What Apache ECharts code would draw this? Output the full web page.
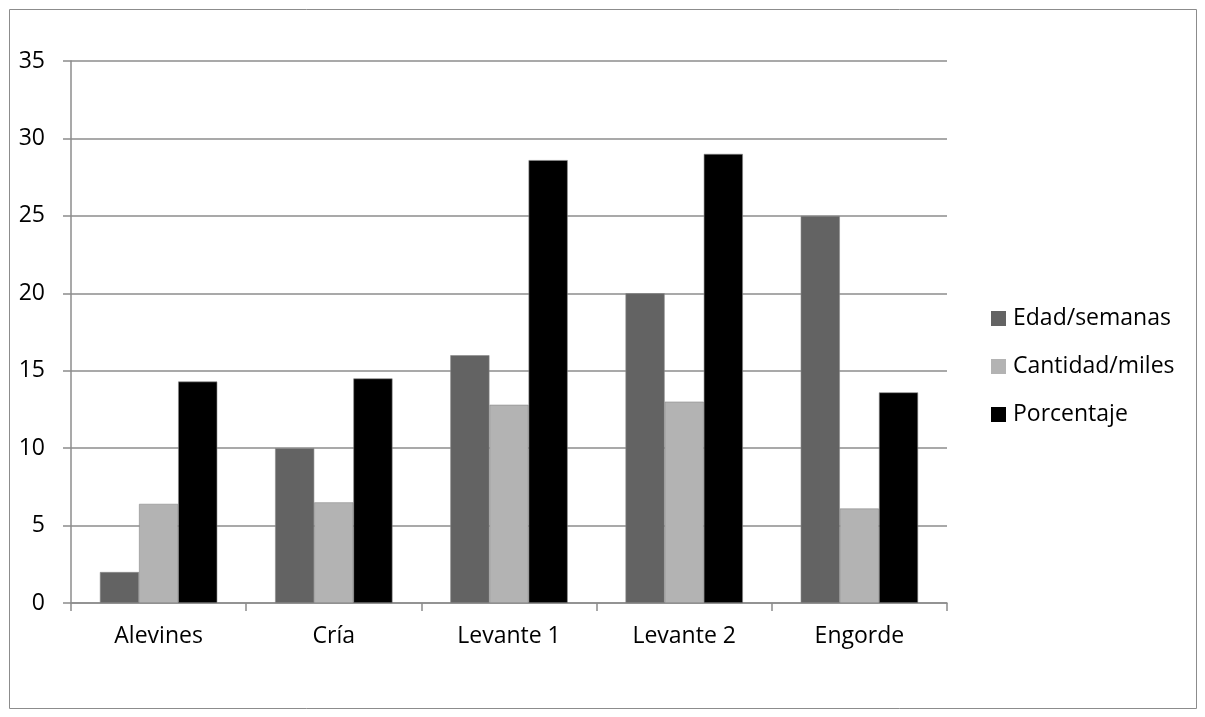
<!DOCTYPE html>
<html>
<head>
<meta charset="utf-8">
<script src="https://cdn.jsdelivr.net/npm/echarts@6/dist/echarts.min.js"></script>
<style>
  html, body { margin: 0; padding: 0; background: #fff; }
  #chart { width: 1205px; height: 717px; }
</style>
</head>
<body>
<div id="chart"></div>
<script>
// Stages of production and their values
const categories = ['Alevines', 'Cría', 'Levante 1', 'Levante 2', 'Engorde'];
const edadSemanas = [2, 10, 16, 20, 25];
const cantidadMiles = [6.4, 6.5, 12.8, 13, 6.1];
const porcentaje = [14.3, 14.5, 28.6, 29, 13.6];
const seriesNames = ['Edad/semanas', 'Cantidad/miles', 'Porcentaje'];
const seriesColors = ['#636363', '#b3b3b3', '#000000'];

const FONT = '"Open Sans", sans-serif';
const FS = 23;
const chart = echarts.init(document.getElementById('chart'), null, { renderer: 'canvas' });

const barStyle = (c) => ({ color: c, borderColor: '#8a8a8a', borderWidth: 0.6 });

chart.setOption({
  animation: false,
  backgroundColor: '#fff',
  textStyle: { fontFamily: FONT },
  graphic: [{
    type: 'rect',
    shape: { x: 9.5, y: 9.5, width: 1187, height: 699 },
    style: { fill: 'none', stroke: '#8c8c8c', lineWidth: 1 },
    z: -1
  }],
  grid: { left: 71, right: 258, top: 61, bottom: 114, containLabel: false },
  legend: {
    orient: 'vertical',
    left: 991,
    top: 307,
    padding: 0,
    itemWidth: 15,
    itemHeight: 15,
    itemGap: 25,
    icon: 'rect',
    itemStyle: { borderWidth: 0 },
    textStyle: { fontSize: FS, lineHeight: 23, color: '#000', fontFamily: FONT, padding: [0, 0, 0, 2] },
    data: seriesNames
  },
  xAxis: {
    type: 'category',
    data: categories,
    axisLine: { lineStyle: { color: '#8c8c8c', width: 1.5 } },
    axisTick: { show: true, length: 8, lineStyle: { color: '#8c8c8c', width: 1.5 } },
    axisLabel: { color: '#000', fontSize: FS, margin: 22, fontFamily: FONT }
  },
  yAxis: {
    type: 'value',
    min: 0,
    max: 35,
    interval: 5,
    axisLine: { show: true, lineStyle: { color: '#8c8c8c', width: 1.5 } },
    axisTick: { show: true, length: 8, lineStyle: { color: '#8c8c8c', width: 1.5 } },
    axisLabel: { color: '#000', fontSize: FS, margin: 26, fontFamily: FONT },
    splitLine: { lineStyle: { color: '#8c8c8c', width: 1.5 } }
  },
  series: [
    { name: seriesNames[0], type: 'bar', data: edadSemanas, itemStyle: barStyle(seriesColors[0]), barGap: '0%', barCategoryGap: '33%' },
    { name: seriesNames[1], type: 'bar', data: cantidadMiles, itemStyle: barStyle(seriesColors[1]), barGap: '0%', barCategoryGap: '33%' },
    { name: seriesNames[2], type: 'bar', data: porcentaje, itemStyle: barStyle(seriesColors[2]), barGap: '0%', barCategoryGap: '33%' }
  ]
});
</script>
</body>
</html>
